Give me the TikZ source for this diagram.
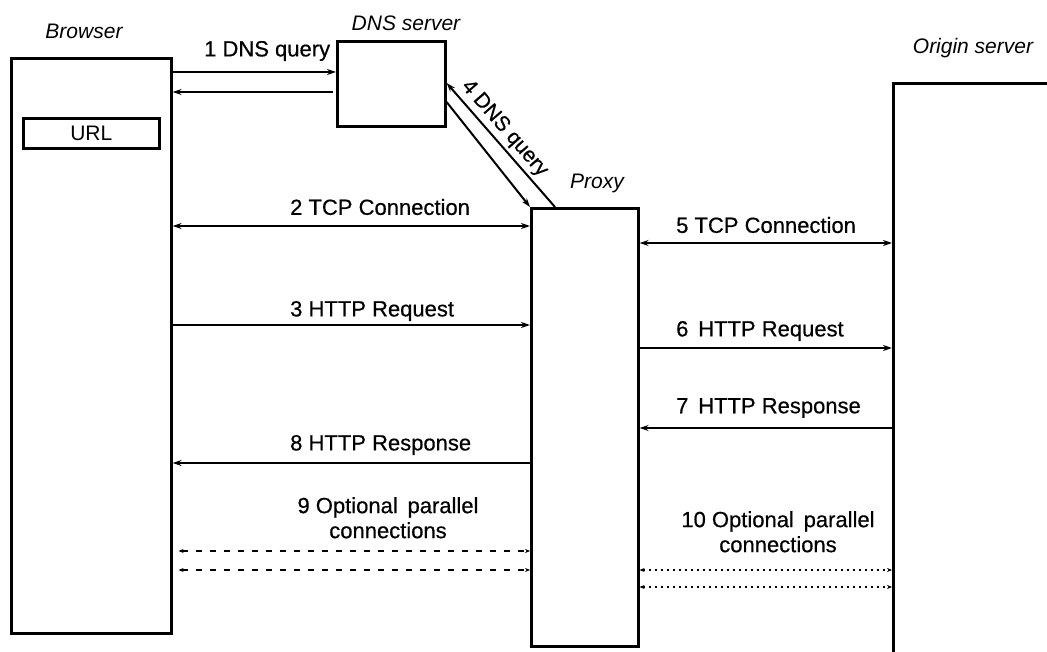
\documentclass[tikz,border=0pt]{standalone}
\usepackage{fontspec}
\setmainfont{Liberation Sans}[BoldFont={Liberation Sans},BoldFeatures={FakeBold=0.5}]
\usetikzlibrary{arrows.meta}
\begin{document}
\begin{tikzpicture}[x=1pt,y=-1pt,
  box/.style={draw, line width=2.6pt, rectangle, anchor=north west, inner sep=0pt},
  lbl/.style={anchor=west, inner sep=0pt, font=\fontsize{22}{25}\selectfont\bfseries},
  title/.style={inner sep=0pt, font=\fontsize{21}{24}\selectfont\itshape},
  msg/.style={line width=2pt, -{Stealth[length=9pt,width=6pt]}},
  both/.style={line width=2pt, {Stealth[length=9pt,width=6pt]}-{Stealth[length=9pt,width=6pt]}},
  opt/.style={line width=1.6pt, dash pattern=on 6pt off 8pt, {Stealth[length=5pt,width=4pt]}-{Stealth[length=5pt,width=4pt]}},
  optdot/.style={line width=1.8pt, dash pattern=on 2pt off 4pt, {Stealth[length=5pt,width=4pt]}-{Stealth[length=5pt,width=4pt]}}]
\useasboundingbox (0,0) rectangle (1047,652);

% hosts
\node[box, minimum width=160pt, minimum height=575pt] (browser) at (10,57) {};
\node[box, minimum width=136pt, minimum height=30pt, font=\fontsize{21}{24}\selectfont] (url) at (22,117) {URL};
\node[box, minimum width=108pt, minimum height=85pt] (dns) at (336,40) {};
\node[box, minimum width=107pt, minimum height=438pt] (proxy) at (530,207) {};
\node[box, minimum width=300pt, minimum height=700pt] (origin) at (892,82) {};

% host names
\node[title] (tbrowser) at (84,31) {Browser};
\node[title] (tdns) at (406,23) {DNS server};
\node[title] (tproxy) at (597,183) {Proxy};
\node[title] (torigin) at (973,48) {Origin server};

% browser <-> DNS server
\draw[msg] (browser.east |- 0,72) -- (dns.west |- 0,72);
\draw[msg] (dns.west |- 0,92) ++(-3,0) -- (browser.east |- 0,92);
\node[lbl] (l1) at (204,51) {1 DNS query};

% proxy <-> DNS server
\coordinate (dnsA) at (dns.east |- 0,83);
\coordinate (dnsB) at (dns.east |- 0,102);
\coordinate (prxA) at (proxy.north west);
\coordinate (prxB) at (proxy.north -| 555,0);
\draw[msg] (prxB) -- node[pos=0.56, sloped, above=3pt, inner sep=0pt, font=\fontsize{21}{24}\selectfont\bfseries] (l4) {4 DNS query} (dnsA);
\draw[msg] (dnsB) -- (prxA);

% browser <-> proxy
\draw[both] (browser.east |- 0,226) -- (proxy.west |- 0,226);
\node[lbl] (l2) at (290,207) {2 TCP Connection};
\draw[msg] (browser.east |- 0,325) -- (proxy.west |- 0,325);
\node[lbl] (l3) at (290,311) {3 HTTP Request};
\draw[msg] (proxy.west |- 0,463) -- (browser.east |- 0,463);
\node[lbl] (l8) at (290,445) {8 HTTP Response};
\node[lbl, align=center, anchor=north] (l9) at (388,497) {9 Optional\, parallel\\connections};
\draw[opt] (browser.east |- 0,551) ++(6,0) -- (proxy.west |- 0,551);
\draw[opt] (browser.east |- 0,570) ++(6,0) -- (proxy.west |- 0,570);

% proxy <-> origin server
\draw[both] (proxy.east |- 0,243) -- (origin.west |- 0,243);
\node[lbl] (l5) at (676,225) {5 TCP Connection};
\draw[msg] (proxy.east |- 0,348) -- (origin.west |- 0,348);
\node[lbl] (l6) at (676,331) {6\, HTTP Request};
\draw[msg] (origin.west |- 0,428) -- (proxy.east |- 0,428);
\node[lbl] (l7) at (676,408) {7\, HTTP Response};
\node[lbl, align=center, anchor=north] (l10) at (778,511) {10 Optional\, parallel\\connections};
\draw[optdot] (proxy.east |- 0,570) -- (origin.west |- 0,570);
\draw[optdot] (proxy.east |- 0,587) -- (origin.west |- 0,587);
\end{tikzpicture}
\end{document}
